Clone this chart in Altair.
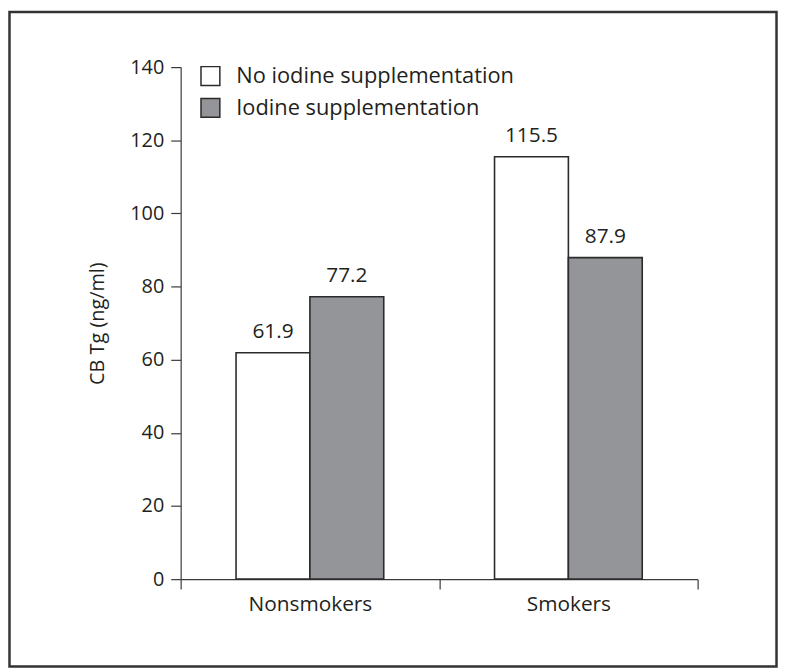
import altair as alt
import pandas as pd

groups = ["Nonsmokers", "Nonsmokers", "Smokers", "Smokers"]
series = ["No iodine supplementation", "Iodine supplementation",
          "No iodine supplementation", "Iodine supplementation"]
values = [61.9, 77.2, 115.5, 87.9]
labels = ["61.9", "77.2", "115.5", "87.9"]
series_order = ["No iodine supplementation", "Iodine supplementation"]
y_ticks = [0, 20, 40, 60, 80, 100, 120, 140]

df = pd.DataFrame({"group": groups, "series": series, "value": values, "label": labels})

FONT = "Open Sans"
INK = "#231f20"
LINE = "#3a3a3a"
W, H = 521, 516

x_enc = alt.X("group:N", title=None,
              scale=alt.Scale(paddingInner=0, paddingOuter=0),
              axis=alt.Axis(labelAngle=0, tickBand="extent", tickSize=10,
                            labelFontSize=21, labelPadding=5, labelColor=INK,
                            domainColor=LINE, tickColor=LINE, domainWidth=1.2,
                            tickWidth=1.2, labelFont=FONT))
xo_enc = alt.XOffset("series:N", sort=series_order,
                     scale=alt.Scale(paddingOuter=0.75, paddingInner=0))
y_enc = alt.Y("value:Q", title="CB Tg (ng/ml)",
              scale=alt.Scale(domain=[0, 140], nice=False),
              axis=alt.Axis(values=y_ticks, grid=False, tickSize=10, labelFontSize=20,
                            labelPadding=7, labelColor=INK, titleColor=INK,
                            titleFontSize=20, titleFontWeight="normal", titlePadding=22,
                            domainColor=LINE, tickColor=LINE, domainWidth=1.2,
                            tickWidth=1.2, labelFont=FONT, titleFont=FONT))

bars = alt.Chart(df).mark_bar(stroke="#2b2b2b", strokeWidth=1.6).encode(
    x=x_enc, xOffset=xo_enc, y=y_enc,
    color=alt.Color("series:N", sort=series_order, title=None,
                    scale=alt.Scale(domain=series_order, range=["#ffffff", "#939598"]),
                    legend=alt.Legend(orient="none", legendX=19, legendY=-2,
                                      symbolType="square", symbolSize=361,
                                      symbolStrokeColor="#2b2b2b", symbolStrokeWidth=1.5,
                                      labelFontSize=22, labelFont=FONT, labelColor=INK,
                                      labelOffset=15, rowPadding=6, padding=0,
                                      labelLimit=400)),
)

text = alt.Chart(df).mark_text(baseline="alphabetic", dy=-15, fontSize=21, font=FONT, color=INK).encode(
    x="group:N", xOffset=alt.XOffset("series:N", sort=series_order), y="value:Q", text="label:N"
)

border_df = pd.DataFrame({"k": [0]})
border = alt.Chart(border_df).mark_rect(fill=None, stroke="#333333", strokeWidth=2.5).encode(
    x=alt.value(-172.5), x2=alt.value(600.5), y=alt.value(-55.5), y2=alt.value(604)
)

chart = alt.layer(bars, text, border).properties(
    width=W, height=H,
    autosize=alt.AutoSizeParams(type="none"),
    padding={"left": 174, "top": 57, "right": 81, "bottom": 91},
).configure(font=FONT, view=alt.ViewConfig(stroke=None))

chart.save("out.html", embed_options={"renderer": "svg", "actions": False})
